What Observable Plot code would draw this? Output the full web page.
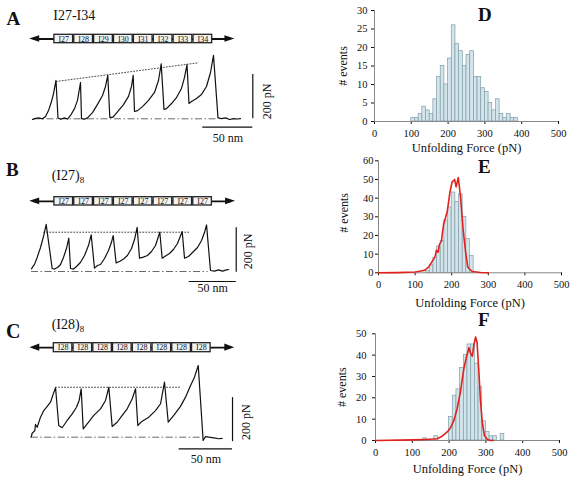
<!DOCTYPE html>
<html><head><meta charset="utf-8">
<script src="https://cdn.jsdelivr.net/npm/d3@7"></script>
<script src="https://cdn.jsdelivr.net/npm/@observablehq/plot@0.6"></script>
<style>
body{margin:0;background:#fff;}
#fig{position:relative;width:572px;height:480px;background:#fff;font-family:"Liberation Serif","Times New Roman",serif;overflow:hidden;color:#111}
#fig svg{position:absolute;left:0;top:0}
.lbl{position:absolute;line-height:1;white-space:nowrap;color:#111}
.lbl sub{font-size:9px;vertical-align:-3px;line-height:1}
</style></head><body><div id="fig"></div><script>
// ---------------- DATA ----------------
// Force-extension traces (extension in nm, force in pN)
const traceA_nm = [0,2,6,10,13,16,19,21,23.5,25.5,28,32,35,38,42,45,48,49,52,55,60,65,70,73,75.3,77.3,80,82,86,91,96,99,100.7,102,105,110,116,122,126,128.7,131.5,134,139,144,149,152,154.5,156.5,159,164,169,174,178,181,185.5,189,193,197,201,205,208];
const traceA_pN = [-3,1,4,0,10,37,78,114,173,4,-2,4,-1,15,46,83,164,1,-2,4,28,65,105,146,196,6,6,15,37,64,101,146,196,33,37,55,83,119,173,248,42,46,69,96,137,187,245,69,78,92,110,146,209,286,4,1,4,-3,1,-1,1];
const traceB_nm = [0,1.6,3.2,6,9.6,13,15.6,22,24.5,27.7,30.9,34,37.2,39.7,41.5,44.7,47.9,52,56.4,60.6,63.5,67,70.2,73.4,77.7,81.9,85,86.9,90,93.6,97.9,102,106.4,109.6,112.4,114.9,119,123.4,127.7,131.9,136.5,139,142.6,146.8,151,155.3,160.3,162.8,167,171.3,176.6,180.9,184,186.2,190.4,194.7,198.9,203.2,207.4,209.9];
const traceB_pN = [12,23,32,63,108,162,212,13.5,11,18,31.5,63,103.5,150,13.5,11,22.5,40.5,72,117,165,15,27,31.5,58.5,94.5,130.5,162,39,45,56,72,103.5,144,199,60,65,72,90,117,177,60,70,81,99,126,180,60,67.5,85.5,108,139.5,175.5,210,4.5,2,7,2,7,9];
const traceC_nm = [0,0.9,3.4,4,5.6,8.7,11.8,15,18.1,20.2,22.8,25.8,29,33.7,38.4,42.4,44.9,46.8,48.7,53,58.6,64.9,69.6,72.7,75.8,80.5,85.2,89.9,94.6,97.7,99.8,103.9,110.1,116.4,121.1,124.8,128.3,133.5,139.8,144.5,149.2,152.9,156.4,161,163.2,166.3,171,175.7,178.8];
const traceC_pN = [0,18,30,58,45,91,121,140,159,190,225,53,43,76,106,136,167,220,38,64,99,129,167,227,49,68,99,129,175,220,53,73,91,121,152,250,68,99,140,182,235,273,326,-15,3,0,-3,-7,-5];
// dotted guide lines through the unfolding peaks
const peakLineA = [{x: 23.7, y: 168.5}, {x: 166.3, y: 253}];
const peakLineB = [{x: 13, y: 177}, {x: 169, y: 177}];
const peakLineC = [{x: 22.8, y: 227}, {x: 139.8, y: 227}];
// domain constructs
const domainsA = ["I27","I28","I29","I30","I31","I32","I33","I34"];
const domainsB = ["I27","I27","I27","I27","I27","I27","I27","I27"];
const domainsC = ["I28","I28","I28","I28","I28","I28","I28","I28"];
// histograms: bin start (pN), bin width 10 pN, counts
const binWidth = 10;
const binsD = [100,110,120,130,140,150,160,170,180,190,200,210,220,230,240,250,260,270,280,290,300,310,320,330,340,350,360,370,380];
const countsD = [1,1,2,4,3,2,6,12,15,10,17,26,21,19,15,18,19,12,12,9,8,5,3,6,2,1,2,1,1];
const binsE = [130,140,150,160,170,180,190,200,210,220,230,240,250];
const countsE = [1,4,8,14,17,28,35,43,38,42,30,18,9];
const binsF = [130,160,200,210,220,230,240,250,260,270,280,290,300,310,320,340];
const countsF = [1,2,11,21,24,34,40,45,45,36,25,9,4,2,2,3];
// red model curves
const curveE_force = [0,50,100,124,137,151,155,158,163,166,169,172,175,178,188,195,201,208,212,218,224,231,238,244,256,279,300];
const curveE_count = [0,0.1,0.4,1.2,3,7.5,9,12,11,15,16,17,22,26,33,43,48.6,50,46,51,41,23.6,11,3,0.7,0.2,0];
const curveF_force = [0,100,136,168,181,195,204,213,222,231,240,247,254,258,263,267,272,276,281,285,290,296,304,312,320];
const curveF_count = [0,0.3,0.5,0.8,2,4,6,9.4,15,23,33.6,39,43.5,41,39.5,44.5,48.5,46,32,19.5,8.6,2.3,0.5,0,0];
const forceTicks = [0,100,200,300,400,500];
const yTicksD = [0,5,10,15,20,25,30];
const yTicksE = [0,10,20,30,40,50,60];
const yTicksF = [0,10,20,30,40,50];

// ---------------- LAYOUT ----------------
const W = 572, H = 480;
const FONT = '"Liberation Serif","Times New Roman",serif';
const fig = document.getElementById("fig");
const baseStyle = {background: "transparent", fontFamily: FONT, color: "#111", overflow: "visible"};

function add(node) { fig.appendChild(node); }
function label(html, left, top, size, bold) {
  const d = document.createElement("div");
  d.className = "lbl";
  d.innerHTML = html;
  d.style.left = left + "px"; d.style.top = top + "px";
  d.style.fontSize = size + "px";
  if (bold) d.style.fontWeight = "bold";
  fig.appendChild(d);
}

function domainPlot(c) {
  const boxes = c.names.map((n, i) => ({i, n}));
  const head = 0.5;
  const leftHead = [{x: c.tipL, y1: 0.5, y2: 0.5}, {x: c.tipL + head, y1: 0.1, y2: 0.9}];
  const rightHead = [{x: c.tipR - head, y1: 0.1, y2: 0.9}, {x: c.tipR, y1: 0.5, y2: 0.5}];
  return Plot.plot({
    width: W, height: H, style: baseStyle,
    marginLeft: c.left, marginRight: W - c.right, marginTop: c.top, marginBottom: H - c.bottom,
    x: {domain: [0, 8], axis: null}, y: {domain: [0, 1], axis: null},
    marks: [
      Plot.ruleY([0.5], {x1: c.tipL + 0.2, x2: c.tipR - 0.2, stroke: "#111", strokeWidth: 1.8}),
      Plot.areaY(leftHead, {x: "x", y1: "y1", y2: "y2", fill: "#111"}),
      Plot.areaY(rightHead, {x: "x", y1: "y1", y2: "y2", fill: "#111"}),
      Plot.rect(boxes, {x1: d => d.i, x2: d => d.i + 1, y1: 0, y2: 1, fill: "#f3f3f3", stroke: "#222", strokeWidth: 1.3, insetLeft: 0.6, insetRight: 0.6}),
      Plot.text(boxes, {x: d => d.i + 0.5, y: 0.5, text: "n", fontSize: 8, fill: "#111"})
    ]
  });
}

function tracePlot(c) {
  const rows = c.nm.map((x, i) => ({x, y: c.pN[i]}));
  return Plot.plot({
    width: W, height: H, style: baseStyle,
    marginLeft: c.left, marginRight: W - c.right, marginTop: c.top, marginBottom: H - c.bottom,
    x: {domain: [0, c.xMax], axis: null}, y: {domain: [0, 200], axis: null},
    marks: [
      Plot.ruleY([0], {x1: c.base[0], x2: c.base[1], stroke: "#444", strokeWidth: 0.8, strokeDasharray: "7,2.5,1.5,2.5"}),
      Plot.line(c.peakLine, {x: "x", y: "y", stroke: "#333", strokeWidth: 0.9, strokeDasharray: "1,2"}),
      Plot.line(rows, {x: "x", y: "y", stroke: "#111", strokeWidth: 1.2, strokeLinejoin: "round"}),
      Plot.ruleX([c.barX], {y1: c.barY0, y2: c.barY0 + 200, stroke: "#111", strokeWidth: 1.2}),
      Plot.ruleY([c.hbarY], {x1: c.barX - 50, x2: c.barX, stroke: "#111", strokeWidth: 1.2}),
      Plot.text(["50 nm"], {x: c.barX - 25, y: c.hbarY, dy: c.nmDy, fontSize: 12, fill: "#111", lineAnchor: "middle"}),
      Plot.text(["200 pN"], {x: c.barX, y: c.pNy, dx: c.pNdx, rotate: -90, fontSize: 12, fill: "#111", lineAnchor: "middle"})
    ]
  });
}

function histPlot(c) {
  const bars = c.bins.map((b, i) => ({x1: b, x2: b + binWidth, y: c.counts[i]}));
  const marks = [
    Plot.rectY(bars, {x1: "x1", x2: "x2", y: "y", fill: "#d3e5eb", stroke: "#7f9da8", strokeWidth: 0.7}),
    Plot.ruleY([0], {stroke: "#888", strokeWidth: 1}),
    Plot.ruleX([0], {stroke: "#888", strokeWidth: 1}),
    Plot.text(["Unfolding Force (pN)"], {frameAnchor: "bottom", dy: c.titleDy, fontSize: 12.5, fill: "#111", lineAnchor: "middle", textAnchor: "middle"}),
    Plot.text(["# events"], {frameAnchor: "left", dx: c.yTitleDx, dy: c.yTitleDy || 0, rotate: -90, fontSize: 12, fill: "#111", lineAnchor: "middle", textAnchor: "middle"})
  ];
  if (c.curveX) {
    const curve = c.curveX.map((x, i) => ({x, y: c.curveY[i]}));
    marks.push(Plot.line(curve, {x: "x", y: "y", stroke: "#e1221c", strokeWidth: 1.6, strokeLinejoin: "round"}));
  }
  return Plot.plot({
    width: W, height: H, style: {...baseStyle, fontSize: "10.5px", color: "#111"},
    marginLeft: c.left, marginRight: W - c.right, marginTop: c.top, marginBottom: H - c.bottom,
    x: {domain: [0, 500], ticks: forceTicks, tickSize: 3, tickPadding: 5, label: null},
    y: {domain: [0, c.yMax], ticks: c.yTicks, tickSize: 3, tickPadding: c.yPad, label: null},
    marks
  });
}

// Panel A
add(domainPlot({names: domainsA, left: 53.3, right: 212.3, top: 34.3, bottom: 42.7, tipL: -1.21, tipR: 9.11}));
add(tracePlot({nm: traceA_nm, pN: traceA_pN, xMax: 250, left: 32, right: 282, top: 74, bottom: 118.3,
  base: [1, 186], peakLine: peakLineA, barX: 220.3, barY0: 0, hbarY: -38, nmDy: 10.5, pNy: 79, pNdx: 14.4}));
// Panel B
add(domainPlot({names: domainsB, left: 53.3, right: 212, top: 196.7, bottom: 205, tipL: -1.21, tipR: 9.16}));
add(tracePlot({nm: traceB_nm, pN: traceB_pN, xMax: 250, left: 31, right: 266, top: 226.6, bottom: 271,
  base: [0, 188], peakLine: peakLineB, barX: 217.8, barY0: -3, hbarY: -45, nmDy: 7, pNy: 91, pNdx: 11.5}));
// Panel C
add(domainPlot({names: domainsC, left: 52.7, right: 210.7, top: 342.7, bottom: 351.7, tipL: -1.18, tipR: 9.19}));
add(tracePlot({nm: traceC_nm, pN: traceC_pN, xMax: 200, left: 30.7, right: 244.3, top: 392.7, bottom: 436.7,
  base: [0, 158.5], peakLine: peakLineC, barX: 188.5, barY0: -20, hbarY: -53, nmDy: 10, pNy: 68, pNdx: 13.4}));

// Histograms
add(histPlot({bins: binsD, counts: countsD, yMax: 30, yTicks: yTicksD, yPad: 4,
  left: 374, right: 558, top: 10, bottom: 121, titleDy: 26.5, yTitleDx: -31}));
add(histPlot({bins: binsE, counts: countsE, curveX: curveE_force, curveY: curveE_count, yMax: 60, yTicks: yTicksE, yPad: 2,
  left: 378, right: 561, top: 160.3, bottom: 272.3, titleDy: 30, yTitleDx: -34, yTitleDy: -4}));
add(histPlot({bins: binsF, counts: countsF, curveX: curveF_force, curveY: curveF_count, yMax: 50, yTicks: yTicksF, yPad: 6,
  left: 375, right: 559, top: 333.3, bottom: 440, titleDy: 28, yTitleDx: -33}));

// Panel letters and construct titles
label("A", 6.5, 9.4, 19, true);
label("B", 6, 159.5, 19, true);
label("C", 6, 321, 20, true);
label("D", 478, 5, 19, true);
label("E", 478, 157, 19, true);
label("F", 478, 310, 19, true);
label("I27-I34", 53.3, 9.2, 14);
label("(I27)<sub>8</sub>", 51.7, 169.3, 14);
label("(I28)<sub>8</sub>", 51.7, 317.6, 14);
</script></body></html>
